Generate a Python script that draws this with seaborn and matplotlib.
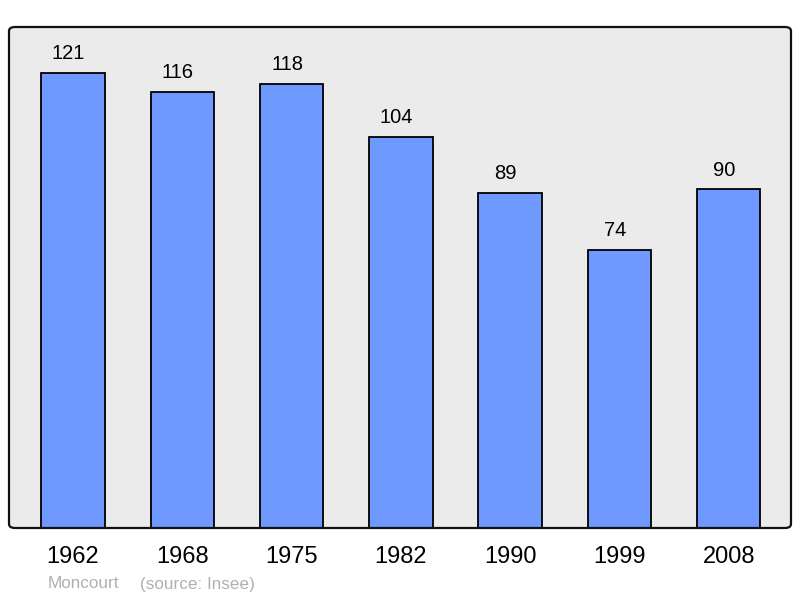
import matplotlib
matplotlib.use("Agg")
import matplotlib.pyplot as plt
import seaborn as sns
import pandas as pd
from matplotlib.patches import FancyBboxPatch

years = ["1962", "1968", "1975", "1982", "1990", "1999", "2008"]
population = [121, 116, 118, 104, 89, 74, 90]

sns.set_theme(style="white")
plt.rcParams['font.family'] = ['Liberation Sans', 'DejaVu Sans']

df = pd.DataFrame({"year": years, "pop": population})

fig = plt.figure(figsize=(8, 5.98), dpi=100)
ax = fig.add_axes([9/800, 1 - 528/598, 782/800, 501/598])
ax.set_facecolor("#ebebeb")

sns.barplot(data=df, x="year", y="pop", color="#7099ff", saturation=1,
            width=0.58, edgecolor="black", linewidth=1.3, ax=ax, zorder=3)

for i, v in enumerate(population):
    ax.annotate(str(v), (i - 0.04, v), xytext=(0, 10), textcoords="offset points",
                ha="center", va="baseline", fontsize=14.5, color="black")

ax.set_xlim(-0.585, 6.57)
ax.set_ylim(0, 133.2)
ax.set_yticks([])
ax.set_xlabel("")
ax.set_ylabel("")
ax.tick_params(axis="x", length=0, pad=13, labelsize=17, labelcolor="black")
for s in ax.spines.values():
    s.set_visible(False)

frame = FancyBboxPatch((0, 0), 1, 1, boxstyle="round,pad=0,rounding_size=0.008",
                       transform=ax.transAxes, facecolor="none", edgecolor="#111111",
                       linewidth=1.6, clip_on=False, zorder=5)
ax.add_patch(frame)

fig.text(48/800, 1 - 584/598, "Moncourt", fontsize=12.3,
         color="#b0b0b0", ha="left", va="center")
fig.text(140/800, 1 - 584/598, "(source: Insee)", fontsize=12.3,
         color="#b0b0b0", ha="left", va="center")

fig.savefig("out.png", dpi=100)
